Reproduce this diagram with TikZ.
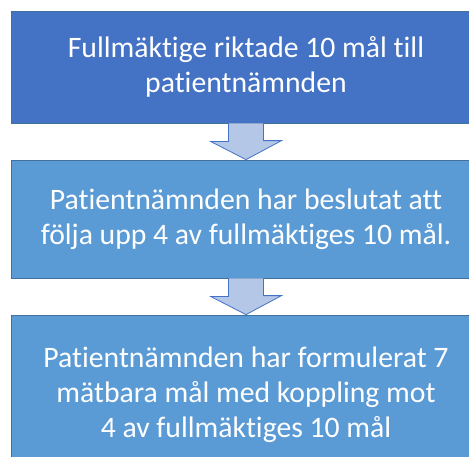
\documentclass[tikz,border=0pt]{standalone}
\usepackage{fontspec}
\setmainfont{Carlito}[Ligatures={NoCommon}]
\usetikzlibrary{calc}

\definecolor{stepDark}{RGB}{68,114,196}
\definecolor{stepLight}{RGB}{91,155,213}
\definecolor{stepLine}{RGB}{65,113,156}
\definecolor{flowFill}{RGB}{180,199,231}

\begin{document}
\begin{tikzpicture}[x=1pt,y=1pt,
  stepbox/.style={draw=stepLine, line width=0.8pt, minimum width=470pt,
    text=white, align=center, inner sep=0pt,
    font=\fontsize{29.7}{35}\selectfont},
  flowarrow/.style={draw=stepDark, fill=flowFill, line width=0.8pt, line join=miter}]
  \clip (0,0) rectangle (469,-456);
  \fill[white] (0,0) rectangle (469,-456);
  % The three boxes, top to bottom
  \node[stepbox, fill=stepDark, minimum height=112pt] (goals) at (246,-67)
    {Fullmäktige riktade 10 mål till\\patientnämnden};
  \node[stepbox, fill=stepLight, minimum height=118pt] (follow) at (246,-219)
    {Patientnämnden har beslutat att\\följa upp 4 av fullmäktiges 10 mål.};
  \node[stepbox, fill=stepLight, minimum height=160pt] (measure) at (246,-395)
    {Patientnämnden har formulerat 7\\mätbara mål med koppling mot\\4 av fullmäktiges 10 mål};
  % Block arrows between the boxes
  \foreach \a/\b in {goals/follow,follow/measure}
    \draw[flowarrow] ([xshift=-17.5pt]\a.south) -- ++(0,-18) -- ++(-18,0)
      -- (\b.north) -- ++(35.5,19) -- ++(-18,0) -- ([xshift=17.5pt]\a.south);
\end{tikzpicture}
\end{document}
